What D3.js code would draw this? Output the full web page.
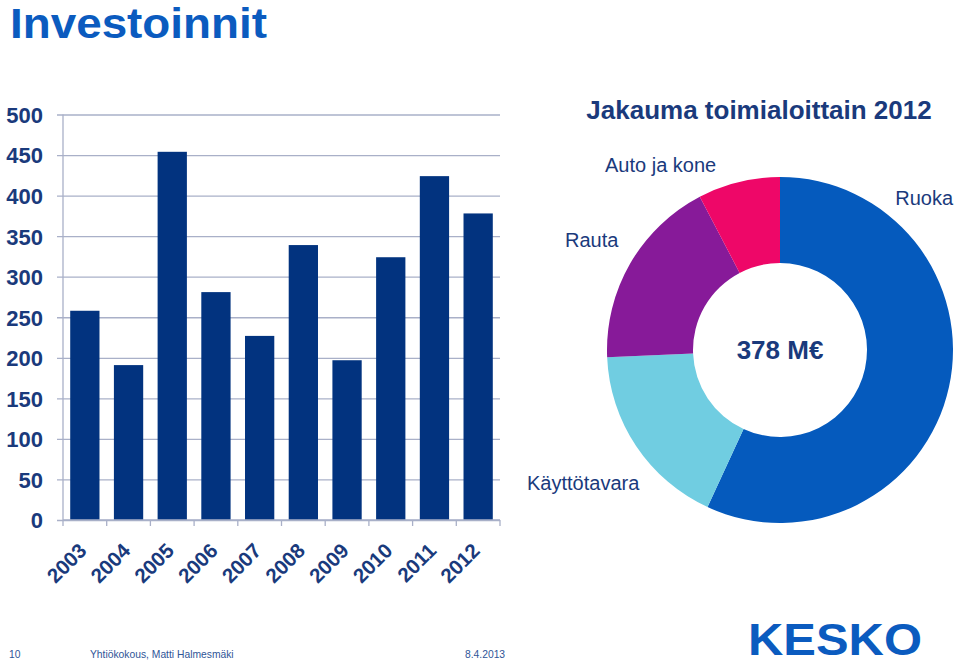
<!DOCTYPE html>
<html>
<head>
<meta charset="utf-8">
<script src="https://cdn.jsdelivr.net/npm/d3@7"></script>
<style>
  html, body { margin: 0; padding: 0; background: #ffffff; }
  svg { display: block; font-family: "Liberation Sans", Arial, sans-serif; }
</style>
</head>
<body>
<svg id="chart" width="959" height="664"></svg>
<script>
// ---- Data ----
const years = ["2003", "2004", "2005", "2006", "2007", "2008", "2009", "2010", "2011", "2012"];
const investments = [258, 191, 454, 281, 227, 339, 197, 324, 424, 378];
const yTickValues = [0, 50, 100, 150, 200, 250, 300, 350, 400, 450, 500];

const segments = ["Ruoka", "Käyttötavara", "Rauta", "Auto ja kone"];
const segmentValues = [215, 66, 68, 29];

// ---- Styles / layout (kept separate from data) ----
const segmentColors = ["#055abd", "#70cde1", "#871a99", "#ee0768"];
const labelLayout = [
  { x: 953, y: 205, anchor: "end" },     // Ruoka
  { x: 527, y: 490, anchor: "start" },   // Käyttötavara
  { x: 565, y: 247, anchor: "start" },   // Rauta
  { x: 605, y: 172, anchor: "start" }    // Auto ja kone
];
const navy = "#1a3a7c";
const barColor = "#02337f";
const gridColor = "#a9b0c8";
const brandBlue = "#0b5bbf";

const svg = d3.select("#chart");

// Title
svg.append("text")
  .attr("x", 10).attr("y", 38)
  .attr("font-size", 42).attr("font-weight", "bold")
  .attr("textLength", 257).attr("lengthAdjust", "spacingAndGlyphs")
  .attr("fill", brandBlue)
  .text("Investoinnit");

// ---- Bar chart ----
const x = d3.scaleBand().domain(years).range([63, 500]).paddingInner(0.33).paddingOuter(0.165);
const y = d3.scaleLinear().domain([0, 500]).range([520, 114.5]);

// gridlines + y labels
const yAxis = d3.axisLeft(y).tickValues(yTickValues).tickSize(-443).tickPadding(14);
const gy = svg.append("g").attr("transform", "translate(57,0)").call(yAxis);
gy.select(".domain").remove();
gy.selectAll(".tick line").attr("stroke", gridColor).attr("stroke-width", 1.3);
gy.selectAll(".tick text")
  .attr("fill", navy).attr("font-size", 22).attr("font-weight", "bold")
  .attr("font-family", "Liberation Sans, Arial, sans-serif")
  .attr("dy", "0.36em");

// y axis line
svg.append("line")
  .attr("x1", 63).attr("x2", 63).attr("y1", y(500)).attr("y2", y(0))
  .attr("stroke", gridColor).attr("stroke-width", 1.3);

// bars
svg.append("g").selectAll("rect")
  .data(years)
  .join("rect")
  .attr("x", d => x(d))
  .attr("width", x.bandwidth())
  .attr("y", (d, i) => y(investments[i]))
  .attr("height", (d, i) => y(0) - y(investments[i]))
  .attr("fill", barColor);

// x axis line and ticks at band boundaries
svg.append("line")
  .attr("x1", 63).attr("x2", 500).attr("y1", y(0)).attr("y2", y(0))
  .attr("stroke", gridColor).attr("stroke-width", 1.3);
const boundaries = years.map(d => x(d) - (x.step() - x.bandwidth()) / 2).concat([x.range()[1]]);
svg.append("g").selectAll("line")
  .data(boundaries)
  .join("line")
  .attr("x1", d => d).attr("x2", d => d)
  .attr("y1", y(0)).attr("y2", y(0) + 6)
  .attr("stroke", gridColor).attr("stroke-width", 1.3);

// x labels
svg.append("g").selectAll("text")
  .data(years)
  .join("text")
  .attr("transform", d => `translate(${x(d) + x.bandwidth() / 2 + 3},552) rotate(-45)`)
  .attr("text-anchor", "end")
  .attr("font-size", 20.5).attr("font-weight", "bold")
  .attr("fill", navy)
  .text(d => d);

// ---- Donut ----
const cx = 780, cy = 350;
svg.append("text")
  .attr("x", 759).attr("y", 119)
  .attr("text-anchor", "middle")
  .attr("font-size", 26).attr("font-weight", "bold")
  .attr("fill", navy)
  .text("Jakauma toimialoittain 2012");

const pie = d3.pie().sort(null).value(d => d);
const arc = d3.arc().innerRadius(87).outerRadius(173);
const gd = svg.append("g").attr("transform", `translate(${cx},${cy})`);
gd.selectAll("path")
  .data(pie(segmentValues))
  .join("path")
  .attr("d", arc)
  .attr("fill", (d, i) => segmentColors[i]);

gd.append("text")
  .attr("text-anchor", "middle").attr("dy", "0.35em")
  .attr("font-size", 26).attr("font-weight", "bold")
  .attr("fill", navy)
  .text(d3.sum(segmentValues) + " M€");

svg.append("g").selectAll("text")
  .data(segments)
  .join("text")
  .attr("x", (d, i) => labelLayout[i].x)
  .attr("y", (d, i) => labelLayout[i].y)
  .attr("text-anchor", (d, i) => labelLayout[i].anchor)
  .attr("font-size", 20)
  .attr("fill", navy)
  .text(d => d);

// ---- Footer ----
const footerColor = "#2f5597";
svg.append("text").attr("x", 9).attr("y", 657.5).attr("font-size", 10.3).attr("fill", footerColor).text("10");
svg.append("text").attr("x", 90).attr("y", 657.5).attr("font-size", 10.3).attr("fill", footerColor).text("Yhtiökokous, Matti Halmesmäki");
svg.append("text").attr("x", 465).attr("y", 657.5).attr("font-size", 10.3).attr("fill", footerColor).text("8.4.2013");

svg.append("text")
  .attr("x", 748).attr("y", 655)
  .attr("font-size", 45).attr("font-weight", "bold")
  .attr("textLength", 174).attr("lengthAdjust", "spacingAndGlyphs")
  .attr("fill", brandBlue)
  .text("KESKO");
</script>
</body>
</html>
